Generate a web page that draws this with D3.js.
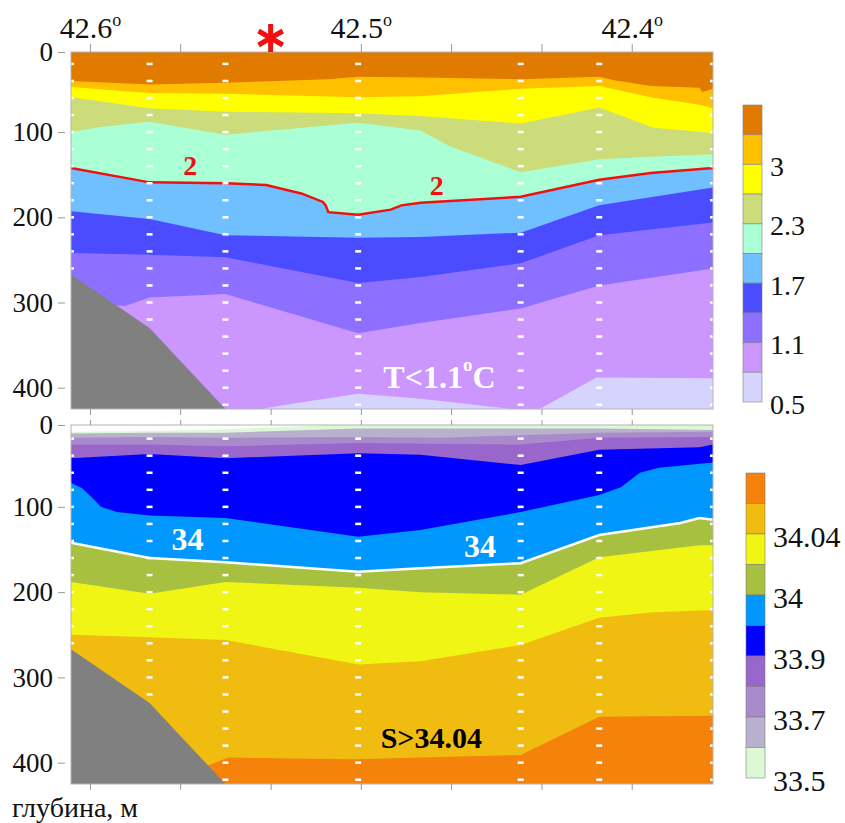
<!DOCTYPE html>
<html>
<head>
<meta charset="utf-8">
<script src="https://cdn.jsdelivr.net/npm/d3@7"></script>
<style>
  body { margin: 0; background: #fff; }
  svg { display: block; font-family: "Liberation Serif", "Times New Roman", serif; }
</style>
</head>
<body>
<div class="svg-container"></div>
<script>
// Stations (latitude, deg N) and deepest sample of each cast
const STATIONS = [42.607, 42.578, 42.550, 42.501, 42.441, 42.412, 42.370];
const STATION_MAX_DEPTH = [260, 320, 420, 420, 420, 420, 420];
const SAMPLE_DEPTHS = [20, 40, 60, 80, 100, 120, 140, 160, 180, 200, 220, 240, 260, 280, 300, 320, 340, 360, 380, 400, 420];

const LAT_TICKS = [42.6, 42.5667, 42.5333, 42.5, 42.4667, 42.4333, 42.4];
const LAT_LABELS = ["42.6", "", "", "42.5", "", "", "42.4"];
const DEPTH_TICKS = [0, 100, 200, 300, 400];

const TEMP_LEGEND = ["3", "2.3", "1.7", "1.1", "0.5"];
const SAL_LEGEND = ["34.04", "34", "33.9", "33.7", "33.5"];

// sea floor [lat, depth m]
const BATHY = [[42.607, 267], [42.578, 330], [42.550, 426]];

// temperature band edges, surface -> bottom, [lat, depth m]
const TEMP_EDGE_1 = [[42.607, 40], [42.578, 44], [42.550, 42], [42.512, 38], [42.501, 35], [42.478, 36], [42.441, 38], [42.412, 35], [42.407, 39], [42.393, 46], [42.375, 48], [42.374, 53], [42.370, 49]];
const TEMP_EDGE_2 = [[42.607, 47], [42.578, 54], [42.550, 55], [42.501, 59], [42.478, 58], [42.441, 49], [42.412, 46], [42.393, 59], [42.375, 68], [42.370, 72]];
const TEMP_EDGE_3 = [[42.607, 59], [42.578, 72], [42.550, 76], [42.501, 78], [42.478, 81], [42.441, 90], [42.412, 71], [42.392, 95], [42.370, 101]];
const TEMP_EDGE_4 = [[42.607, 100], [42.596, 94], [42.578, 88], [42.550, 103], [42.501, 89], [42.478, 98], [42.467, 117], [42.441, 147], [42.412, 132], [42.393, 129], [42.370, 126]];
const TEMP_EDGE_2C = [[42.607, 142], [42.578, 159], [42.550, 160], [42.535, 162], [42.522, 172], [42.514, 182], [42.513, 186], [42.512, 194], [42.501, 197], [42.489, 191], [42.485, 186], [42.478, 183], [42.441, 176], [42.412, 156], [42.393, 148], [42.370, 142]];
const TEMP_EDGE_6 = [[42.607, 193], [42.578, 202], [42.550, 221], [42.501, 224], [42.478, 223], [42.441, 218], [42.412, 186], [42.370, 165]];
const TEMP_EDGE_7 = [[42.607, 242], [42.578, 244], [42.550, 247], [42.501, 277], [42.478, 270], [42.441, 254], [42.412, 221], [42.370, 206]];
const TEMP_EDGE_8 = [[42.607, 300], [42.587, 304], [42.578, 294], [42.550, 290], [42.501, 336], [42.478, 324], [42.441, 307], [42.412, 280], [42.370, 260]];
const TEMP_EDGE_9 = [[42.607, 440], [42.537, 440], [42.526, 419], [42.501, 407], [42.478, 413], [42.450, 423], [42.445, 440], [42.434, 440], [42.413, 388], [42.370, 389]];

// salinity band edges, surface -> bottom
const SAL_EDGE_0 = [[42.607, 12], [42.578, 11], [42.550, 9], [42.526, 6], [42.511, 3], [42.370, 3]];
const SAL_EDGE_1 = [[42.607, 14], [42.578, 13], [42.550, 13], [42.501, 8], [42.441, 8], [42.412, 8], [42.370, 10]];
const SAL_EDGE_2 = [[42.607, 19], [42.578, 18], [42.550, 19], [42.501, 18], [42.471, 19], [42.441, 16], [42.412, 13], [42.370, 12]];
const SAL_EDGE_3 = [[42.607, 27], [42.578, 27], [42.550, 29], [42.501, 25], [42.441, 27], [42.412, 19], [42.370, 18]];
const SAL_EDGE_4 = [[42.607, 43], [42.578, 38], [42.550, 43], [42.501, 37], [42.478, 39], [42.441, 51], [42.412, 33], [42.375, 30], [42.370, 27]];
const SAL_EDGE_5 = [[42.607, 72], [42.603, 78], [42.599, 90], [42.596, 100], [42.590, 106], [42.578, 110], [42.550, 113], [42.501, 135], [42.478, 127], [42.441, 106], [42.412, 86], [42.404, 77], [42.397, 60], [42.390, 54], [42.370, 48]];
const SAL_EDGE_34 = [[42.607, 142], [42.578, 160], [42.550, 165], [42.501, 176], [42.478, 172], [42.441, 166], [42.412, 133], [42.382, 119], [42.375, 113], [42.370, 115]];
const SAL_EDGE_7 = [[42.607, 188], [42.578, 202], [42.550, 188], [42.501, 195], [42.478, 200], [42.441, 203], [42.412, 159], [42.375, 145], [42.370, 145]];
const SAL_EDGE_8 = [[42.607, 250], [42.578, 253], [42.550, 256], [42.501, 285], [42.478, 281], [42.441, 262], [42.412, 230], [42.393, 224], [42.370, 221]];
const SAL_EDGE_9 = [[42.607, 405], [42.578, 405], [42.556, 403], [42.549, 394], [42.501, 396], [42.478, 394], [42.441, 391], [42.412, 346], [42.370, 345]];

// colours, surface -> bottom
const TEMP_COLORS = ["#E07B00", "#FFC000", "#FFFF00", "#CCDC7A", "#AAFFD4", "#70C0FF", "#4B4BFF", "#8D70FF", "#CC96FF", "#D6D4FF"];
const SAL_COLORS = ["#FFFFFF", "#DDF8D5", "#B8B0CC", "#A98BCB", "#9966CC", "#0000FF", "#0098FF", "#A8C040", "#F0F514", "#F0BC10", "#F5820A"];

const width = 845;
const height = 823;
const left = 71;
const right = 713;

const svg = d3.select(".svg-container").append("svg")
    .attr("width", width)
    .attr("height", height);

const x = d3.scaleLinear().domain([42.607, 42.370]).range([left, right]);

function drawPanel(p) {
    const y = d3.scaleLinear().domain([p.dMin, 425]).range([p.top, p.bottom]).clamp(true);

    svg.append("clipPath").attr("id", "clip-" + p.id)
        .append("rect")
        .attr("x", left).attr("y", p.top)
        .attr("width", right - left).attr("height", p.bottom - p.top);

    const g = svg.append("g").attr("clip-path", "url(#clip-" + p.id + ")");

    const area = d3.area().x(d => x(d[0])).y0(y(425)).y1(d => y(d[1]));
    const line = d3.line().x(d => x(d[0])).y(d => y(d[1]));

    // bands: paint surface colour, then each edge downwards
    g.append("rect")
        .attr("x", left).attr("y", p.top)
        .attr("width", right - left).attr("height", p.bottom - p.top)
        .attr("fill", p.colors[0]);
    p.edges.forEach((edge, i) => {
        g.append("path").datum(edge).attr("d", area).attr("fill", p.colors[i + 1]);
    });

    g.append("path").datum(p.contour)
        .attr("d", line)
        .attr("fill", "none")
        .attr("stroke", p.contourColor)
        .attr("stroke-width", 2.5);

    // sampling depths at each station
    STATIONS.forEach((lat, i) => {
        g.selectAll(null)
            .data(SAMPLE_DEPTHS.filter(d => d <= STATION_MAX_DEPTH[i]))
            .enter()
            .append("rect")
            .attr("x", x(lat) - 3)
            .attr("y", d => y(d) - 1.25)
            .attr("width", 6)
            .attr("height", 2.5)
            .attr("fill", "#fff");
    });

    g.append("path").datum(BATHY).attr("d", area).attr("fill", "#808080");

    svg.append("rect")
        .attr("x", left).attr("y", p.top)
        .attr("width", right - left).attr("height", p.bottom - p.top)
        .attr("fill", "none").attr("stroke", "#b4b4b4");

    // depth axis
    const ya = svg.append("g")
        .attr("transform", "translate(" + (left - 6) + ",0)")
        .call(d3.axisLeft(y).tickValues(DEPTH_TICKS).tickSize(7).tickPadding(5));
    ya.select(".domain").remove();
    ya.selectAll("line").attr("stroke", "#999");
    ya.selectAll("text").attr("font-size", 27).attr("font-family", "Liberation Serif").attr("fill", "#111");

    // latitude ticks on both edges
    const ta = svg.append("g")
        .attr("transform", "translate(0," + p.top + ")")
        .call(d3.axisTop(x).tickValues(LAT_TICKS).tickSize(p.topTick).tickPadding(6)
            .tickFormat((d, i) => p.latLabels ? LAT_LABELS[i] : ""));
    ta.select(".domain").remove();
    ta.selectAll("line").attr("stroke", "#999");
    ta.selectAll("text")
        .attr("font-size", 30).attr("font-family", "Liberation Serif").attr("fill", "#111")
        .filter(function () { return this.textContent !== ""; })
        .append("tspan").attr("font-size", 18).attr("dy", -12).text("o");

    const ba = svg.append("g")
        .attr("transform", "translate(0," + p.bottom + ")")
        .call(d3.axisBottom(x).tickValues(LAT_TICKS).tickSize(6).tickFormat(""));
    ba.select(".domain").remove();
    ba.selectAll("line").attr("stroke", "#999");

    return y;
}

function drawLegend(colors, labels, x0, y0, y1, fontSize, labelX) {
    const ly = d3.scaleLinear().domain([0, colors.length]).range([y0, y1]);
    const lg = svg.append("g");
    lg.selectAll("rect")
        .data(colors)
        .enter()
        .append("rect")
        .attr("x", x0)
        .attr("y", (d, i) => ly(i))
        .attr("width", 19)
        .attr("height", (d, i) => ly(i + 1) - ly(i))
        .attr("fill", d => d)
        .attr("stroke", "rgba(120,120,120,0.55)")
        .attr("stroke-width", 1);
    lg.selectAll("text")
        .data(labels)
        .enter()
        .append("text")
        .attr("x", labelX)
        .attr("y", (d, i) => ly(2 * (i + 1)) + 2)
        .attr("dominant-baseline", "central")
        .attr("font-size", fontSize)
        .attr("fill", "#111")
        .text(d => d);
}

// temperature section
const yT = drawPanel({
    id: "t", top: 52, bottom: 409, dMin: 6, topTick: 8, latLabels: true,
    colors: TEMP_COLORS,
    edges: [TEMP_EDGE_1, TEMP_EDGE_2, TEMP_EDGE_3, TEMP_EDGE_4, TEMP_EDGE_2C, TEMP_EDGE_6, TEMP_EDGE_7, TEMP_EDGE_8, TEMP_EDGE_9],
    contour: TEMP_EDGE_2C, contourColor: "#F01010"
});

// salinity section
const yS = drawPanel({
    id: "s", top: 425, bottom: 784, dMin: 4, topTick: 5, latLabels: false,
    colors: SAL_COLORS,
    edges: [SAL_EDGE_0, SAL_EDGE_1, SAL_EDGE_2, SAL_EDGE_3, SAL_EDGE_4, SAL_EDGE_5, SAL_EDGE_34, SAL_EDGE_7, SAL_EDGE_8, SAL_EDGE_9],
    contour: SAL_EDGE_34, contourColor: "#fff"
});

drawLegend(TEMP_COLORS, TEMP_LEGEND, 743, 105, 402, 28, 770);
drawLegend(SAL_COLORS.slice(1).reverse(), SAL_LEGEND, 746, 473, 778, 30, 773);

// annotations
function note(txt, lat, depth, yScale, size, weight, color) {
    return svg.append("text")
        .attr("x", x(lat))
        .attr("y", yScale(depth))
        .attr("text-anchor", "middle")
        .attr("dominant-baseline", "central")
        .attr("font-size", size)
        .attr("font-weight", weight)
        .attr("fill", color)
        .text(txt);
}

note("2", 42.563, 139, yT, 28, "bold", "#F01010");
note("2", 42.472, 163, yT, 28, "bold", "#F01010");
const tl = note("T<1.1", 42.471, 387, yT, 32, "bold", "#fff");
tl.append("tspan").attr("font-size", 19).attr("dy", -13).text("o");
tl.append("tspan").attr("dy", 13).text("C");

note("34", 42.564, 138, yS, 32, "bold", "#fff");
note("34", 42.456, 146, yS, 32, "bold", "#fff");
note("S>34.04", 42.474, 371, yS, 30, "bold", "#000");

// station mark above the section
svg.append("path")
    .attr("transform", "translate(" + x(42.5333) + ",38)")
    .attr("d", d3.symbol(d3.symbolAsterisk, 555)())
    .attr("fill", "none")
    .attr("stroke", "#F01010")
    .attr("stroke-width", 5);

svg.append("text")
    .attr("x", 12)
    .attr("y", 817)
    .attr("font-size", 28)
    .attr("fill", "#111")
    .text("глубина, м");
</script>
</body>
</html>
